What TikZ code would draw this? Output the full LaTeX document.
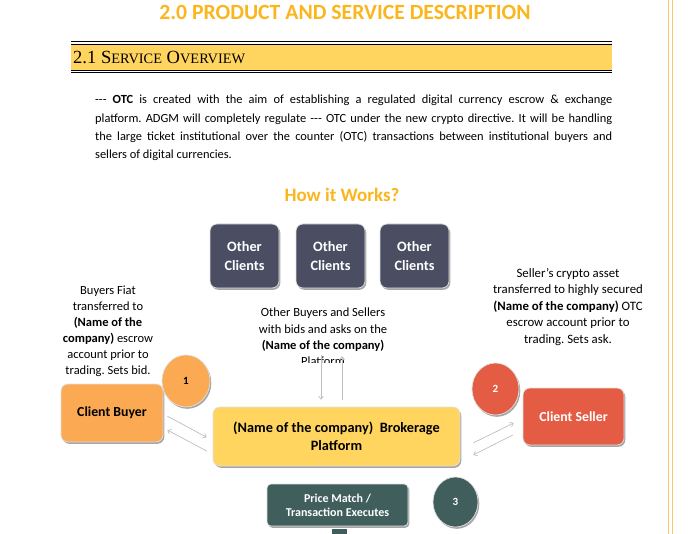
\documentclass[tikz,border=0pt]{standalone}
\usepackage{fontspec}
\setsansfont{Carlito}
\newfontfamily\headfont{Liberation Serif}
\usetikzlibrary{positioning,shapes.geometric,shadows,arrows.meta}
\definecolor{titleorange}{RGB}{251,182,30}
\definecolor{headyellow}{RGB}{255,212,95}
\definecolor{slate}{RGB}{75,77,99}
\definecolor{buyorange}{RGB}{251,169,82}
\definecolor{platyellow}{RGB}{255,213,96}
\definecolor{sellred}{RGB}{229,92,69}
\definecolor{matchteal}{RGB}{63,94,92}
\definecolor{borderorange}{RGB}{251,196,106}
\newcommand{\smallcap}[1]{{\fontsize{15.5}{16}\selectfont #1}}
\frenchspacing

\begin{document}
\begin{tikzpicture}[x=1pt,y=-1pt,font=\sffamily]
	\tikzstyle{box}=[rounded corners=7pt,draw=black!12,line width=0.7pt,inner sep=2pt,align=center,
		drop shadow={shadow xshift=1.3pt,shadow yshift=-1.8pt,fill=black!50,opacity=.7}]
	\tikzstyle{bubble}=[ellipse,draw=black!12,line width=0.7pt,inner sep=0pt,font=\sffamily\bfseries\fontsize{11}{11}\selectfont,
		drop shadow={shadow xshift=1.3pt,shadow yshift=-1.8pt,fill=black!50,opacity=.7}]
	\tikzstyle{note}=[align=center,inner sep=0pt,font=\sffamily\fontsize{12.5}{16.3}\selectfont]
	\tikzstyle{flow}=[draw=black!25,line width=0.7pt,-{Straight Barb[length=3pt,width=5pt]}]
	\useasboundingbox (0,0) rectangle (692,534);
	\fill[white] (0,0) rectangle (692,534);
	\draw[borderorange,line width=0.6pt] (668,0) -- (668,534) (672,0) -- (672,534);

	\node[text=titleorange,font=\sffamily\bfseries\fontsize{21.7}{22}\selectfont] (title) at (345,12) {2.0 PRODUCT AND SERVICE DESCRIPTION};
	\fill[headyellow] (71,44) rectangle (612,70);
	\draw[line width=1.2pt] (71,41.4) -- (612,41.4);
	\draw[line width=0.6pt] (71,44) -- (612,44) (71,70) -- (612,70);
	\draw[line width=1.2pt] (71,72.5) -- (612,72.5);
	\node[anchor=west,inner sep=0pt,font=\headfont\fontsize{20}{20}\selectfont] (section) at (73,57.5) {\resizebox{172pt}{!}{2.1 S\smallcap{ERVICE} O\smallcap{VERVIEW}}};

	\node[anchor=north west,text width=517pt,align=justify,inner sep=0pt,font=\sffamily\fontsize{12.4}{18.3}\selectfont] (para) at (95,95) {-{}-{}- \textbf{OTC} is created with the aim of establishing a regulated digital currency escrow \& exchange\linebreak platform. ADGM will completely regulate -{}-{}- OTC under the new crypto directive. It will be handling\linebreak the large ticket institutional over the counter (OTC) transactions between institutional buyers and\linebreak sellers of digital currencies.};

	\node[text=titleorange,font=\sffamily\bfseries\fontsize{19}{19}\selectfont] (how) at (342,195) {How it Works?};

	\foreach \n/\x in {1/244.5, 2/330.5, 3/414.5}
		\node[box,fill=slate,text=white,minimum width=69pt,minimum height=64pt,font=\sffamily\bfseries\fontsize{14.3}{19}\selectfont] (other\n) at (\x,256) {Other\\Clients};

	\node[note,font=\sffamily\fontsize{12.5}{16}\selectfont] (buyernote) at (108,331) {Buyers Fiat\\transferred to\\\textbf{(Name of the}\\\textbf{company)} escrow\\account prior to\\trading. Sets bid.};
	\begin{scope}
		\clip (230,295) rectangle (420,362.5);
		\node[note] (marketnote) at (323,337) {Other Buyers and Sellers\\with bids and asks on the\\\textbf{(Name of the company)}\\Platform};
	\end{scope}
	\node[note,font=\sffamily\fontsize{12.8}{16.5}\selectfont] (sellernote) at (568,307) {Seller's crypto asset\\transferred to highly secured\\\textbf{(Name of the company)} OTC\\escrow account prior to\\trading. Sets ask.};

	\node[box,fill=buyorange,minimum width=102pt,minimum height=58pt,font=\sffamily\bfseries\fontsize{13.8}{16}\selectfont] (buyer) at (112,413) {Client Buyer};
	\node[box,fill=platyellow,minimum width=247pt,minimum height=59pt,font=\sffamily\bfseries\fontsize{14.3}{18}\selectfont] (platform) at (336.5,436.5) {(Name of the company)\ \ Brokerage\\Platform};
	\node[box,fill=sellred,text=white,minimum width=101pt,minimum height=57pt,font=\sffamily\bfseries\fontsize{13.8}{16}\selectfont] (seller) at (573.5,416.5) {Client Seller};
	\node[box,rounded corners=4pt,fill=matchteal,text=white,minimum width=141pt,minimum height=42pt,font=\sffamily\bfseries\fontsize{12}{14}\selectfont] (match) at (337.5,505) {Price Match /\\Transaction Executes};

	\node[bubble,fill=buyorange,minimum width=48pt,minimum height=52pt] (step1) at (186,381) {1};
	\node[bubble,fill=sellred,text=white,minimum width=47pt,minimum height=52pt] (step2) at (495.5,389) {2};
	\node[bubble,fill=matchteal,text=white,minimum width=45pt,minimum height=50pt] (step3) at (455.5,502) {3};

	\draw[flow,shorten <=4.5pt,shorten >=6.8pt] ([yshift=-1pt]buyer.east) -- ([yshift=-4pt]platform.west);
	\draw[flow,shorten <=6.8pt,shorten >=4.5pt] ([yshift=-17.7pt]platform.west) -- ([yshift=-14.9pt]buyer.east);
	\draw[flow,shorten <=14.5pt,shorten >=10pt] ([yshift=-12.8pt]platform.east) -- ([yshift=-2.1pt]seller.west);
	\draw[flow,shorten <=11.2pt,shorten >=14.5pt] ([yshift=-13.5pt]seller.west) -- ([yshift=-25pt]platform.east);

	\coordinate (down) at (321,355);
	\coordinate (up) at (342,356);
	\draw[flow,shorten >=7pt] (down) -- (down |- platform.north);
	\draw[flow,shorten <=7pt] (up |- platform.north) -- (up);

	\fill[matchteal] (332,529) rectangle (347,534);
\end{tikzpicture}
\end{document}
